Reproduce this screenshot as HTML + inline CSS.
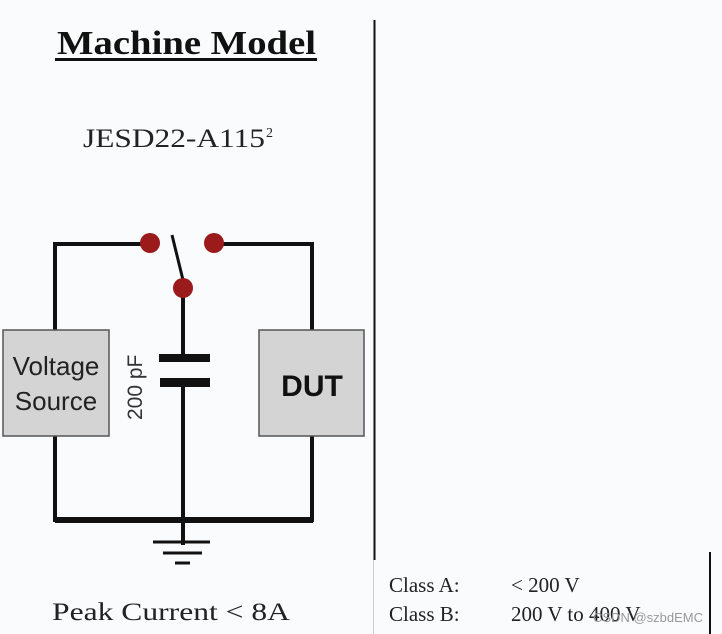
<!DOCTYPE html>
<html><head><meta charset="utf-8"><style>
html,body{margin:0;padding:0;background:#fafbfd;}
svg{display:block}
</style></head><body>
<svg width="722" height="634" viewBox="0 0 722 634" xmlns="http://www.w3.org/2000/svg">
<rect width="722" height="634" fill="#fafbfd"/>
<text x="57" y="54" font-family="Liberation Serif, serif" font-weight="bold" font-size="34" fill="#111" textLength="259" lengthAdjust="spacingAndGlyphs">Machine Model</text>
<rect x="55" y="58" width="262" height="3" fill="#111"/>
<text x="83" y="147" font-family="Liberation Serif, serif" font-size="26" fill="#222" textLength="182" lengthAdjust="spacingAndGlyphs">JESD22-A115</text>
<text x="266" y="137" font-family="Liberation Serif, serif" font-size="14" fill="#222">2</text>
<line x1="374.5" y1="20" x2="374.5" y2="560" stroke="#111" stroke-width="2"/>
<line x1="373.5" y1="560" x2="373.5" y2="634" stroke="#ccc" stroke-width="1"/>
<line x1="710" y1="552" x2="710" y2="634" stroke="#111" stroke-width="2"/>
<g stroke="#111" stroke-width="4" fill="none">
<polyline points="55,330 55,244 150,244"/>
<polyline points="214,244 312,244 312,330"/>
<line x1="183" y1="288" x2="183" y2="357"/>
<line x1="183" y1="386" x2="183" y2="545"/>
<polyline points="55,436 55,520 312,520 312,436"/>
<line x1="172" y1="235" x2="183" y2="280" stroke-width="3"/>
<line x1="153" y1="542" x2="210" y2="542" stroke-width="3"/>
<line x1="163" y1="553" x2="202" y2="553" stroke-width="3"/>
<line x1="175" y1="563" x2="190" y2="563" stroke-width="3"/>
</g>
<rect x="55" y="517" width="258" height="6" fill="#111"/>
<rect x="159" y="354" width="51" height="8" fill="#111"/>
<rect x="160" y="378" width="50" height="9" fill="#111"/>
<circle cx="150" cy="243" r="10" fill="#9b1a1c"/>
<circle cx="214" cy="243" r="10" fill="#9b1a1c"/>
<circle cx="183" cy="288" r="10" fill="#9b1a1c"/>
<rect x="3" y="330" width="106" height="106" fill="#d4d4d4" stroke="#555" stroke-width="1.5"/>
<rect x="259" y="330" width="105" height="106" fill="#d4d4d4" stroke="#555" stroke-width="1.5"/>
<text x="56" y="375" text-anchor="middle" font-family="Liberation Sans, sans-serif" font-size="26" fill="#222">Voltage</text>
<text x="56" y="410" text-anchor="middle" font-family="Liberation Sans, sans-serif" font-size="26" fill="#222">Source</text>
<text x="312" y="396" text-anchor="middle" font-family="Liberation Sans, sans-serif" font-weight="bold" font-size="30" fill="#111">DUT</text>
<text transform="translate(142,420) rotate(-90)" font-family="Liberation Sans, sans-serif" font-size="21" fill="#333">200 pF</text>
<text x="52" y="620" font-family="Liberation Serif, serif" font-size="25" fill="#222" textLength="238" lengthAdjust="spacingAndGlyphs">Peak Current &lt; 8A</text>
<text x="389" y="592" font-family="Liberation Serif, serif" font-size="21" fill="#222">Class A:</text>
<text x="511" y="592" font-family="Liberation Serif, serif" font-size="21" fill="#222">&lt; 200 V</text>
<text x="389" y="621" font-family="Liberation Serif, serif" font-size="21" fill="#222">Class B:</text>
<text x="511" y="621" font-family="Liberation Serif, serif" font-size="21" fill="#222">200 V to 400 V</text>
<text x="593" y="622" font-family="Liberation Sans, sans-serif" font-size="13" fill="#999">CSDN @szbdEMC</text>
</svg>
</body></html>
